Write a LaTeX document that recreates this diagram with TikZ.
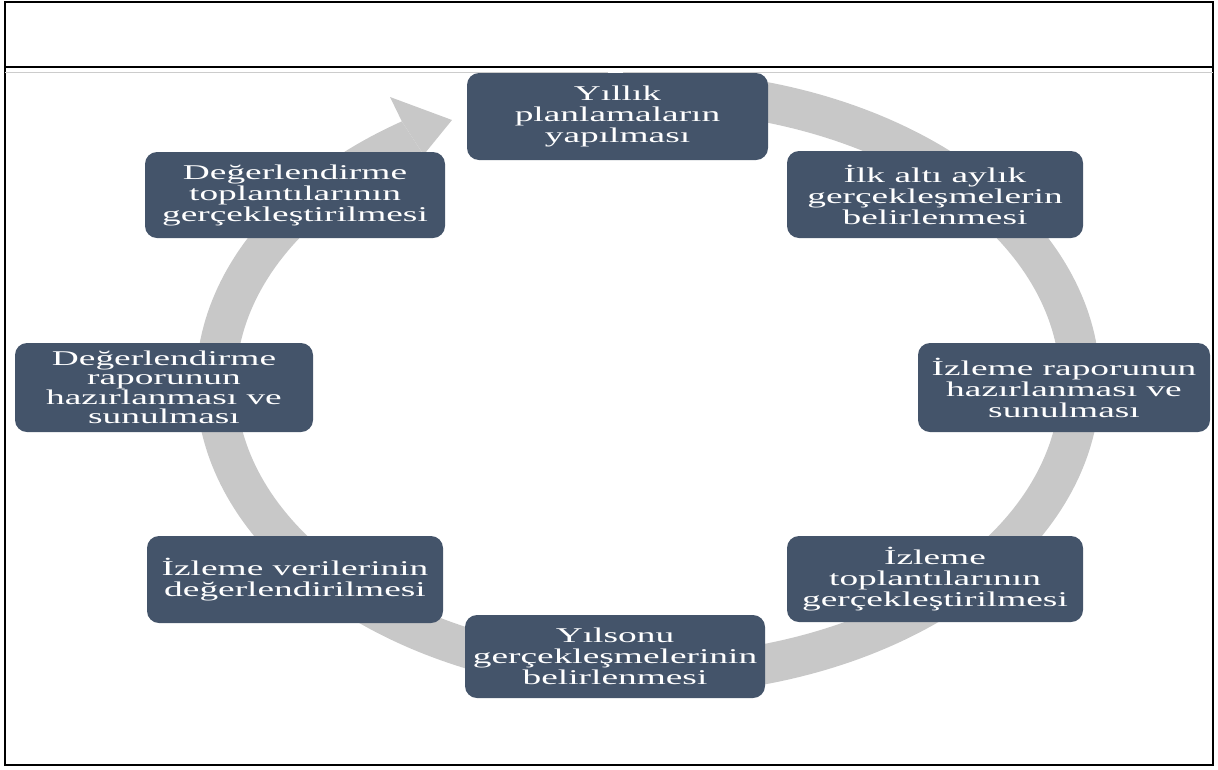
\documentclass[tikz,border=0pt]{standalone}
\usepackage{fontspec}
\newfontfamily\boxfont[FakeStretch=1.78]{Liberation Serif}
\definecolor{boxblue}{RGB}{68,84,106}
\definecolor{ringgray}{RGB}{200,200,200}
\tikzset{
  stepbox/.style={draw=none, fill=boxblue, rounded corners=12pt, text=white,
    align=center, inner sep=0pt,
    font=\boxfont\fontsize{21}{21}\selectfont},
  frameline/.style={line width=2pt, draw=black}
}
\begin{document}
\begin{tikzpicture}[x=1pt,y=-1pt]
\useasboundingbox (0,0) rectangle (1218,769);
% ring (circular arrow)
\fill[ringgray] plot[domain=-80:237, samples=260] ({648+452*cos(\x)}, {383+312*sin(\x)})
  -- plot[domain=237:-80, samples=260] ({648+412*cos(\x)}, {383+272*sin(\x)}) -- cycle;
% arrow head
\fill[ringgray] ({648+452*cos(237)}, {383+312*sin(237)}) -- (390,97) -- (452,120)
  -- ({648+412*cos(237)}, {383+272*sin(237)}) -- cycle;
% frame
\draw[frameline] (5,2) rectangle (1213,765);
\draw[frameline] (5,67) -- (1213,67);
\draw[line width=1pt, draw=black!20] (5,72) -- (1213,72);
\fill[white] (608,68) rectangle (623,75);
% boxes
\node[stepbox, minimum width=301pt, minimum height=87pt] (n1) at (617.5,116.5) {Yıllık\\planlamaların\\yapılması};
\node[stepbox, minimum width=296pt, minimum height=87pt] (n2) at (935,194.5) {İlk altı aylık\\gerçekleşmelerin\\belirlenmesi};
\node[stepbox, minimum width=292pt, minimum height=89pt] (n3) at (1064,387.5) {İzleme raporunun\\hazırlanması ve\\sunulması};
\node[stepbox, minimum width=296pt, minimum height=86pt] (n4) at (935,579) {İzleme\\toplantılarının\\gerçekleştirilmesi};
\node[stepbox, minimum width=300pt, minimum height=83pt] (n5) at (615,656.5) {Yılsonu\\gerçekleşmelerinin\\belirlenmesi};
\node[stepbox, minimum width=296pt, minimum height=87pt] (n6) at (295,579.5) {İzleme verilerinin\\değerlendirilmesi};
\node[stepbox, minimum width=298pt, minimum height=89pt, font=\boxfont\fontsize{21}{19.5}\selectfont] (n7) at (164,387.5) {Değerlendirme\\raporunun\\hazırlanması ve\\sunulması};
\node[stepbox, minimum width=300pt, minimum height=86pt] (n8) at (295,195) {Değerlendirme\\toplantılarının\\gerçekleştirilmesi};
\end{tikzpicture}
\end{document}
